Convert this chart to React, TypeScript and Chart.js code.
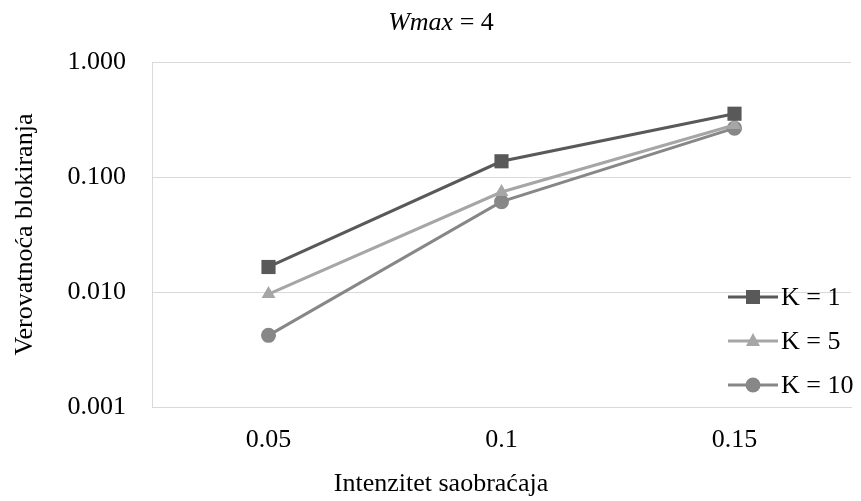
import React, { useEffect, useRef } from "react";
import { Chart, registerables } from "chart.js";

Chart.register(...registerables);

const categories = ["0.05", "0.1", "0.15"];
const seriesK1 = [0.0165, 0.137, 0.355];
const seriesK5 = [0.0096, 0.074, 0.283];
const seriesK10 = [0.0042, 0.061, 0.266];
const seriesLabels = ["K = 1", "K = 5", "K = 10"];
const yTickValues = [0.001, 0.01, 0.1, 1];
const titleItalic = "Wmax";
const titleRest = " = 4";
const xTitle = "Intenzitet saobraćaja";
const yTitle = "Verovatnoća blokiranja";

const FONT = "'Liberation Serif', 'Times New Roman', serif";
const FS = 26;
const colors = ["#595959", "#a6a6a6", "#878787"];
const shapes = ["rect", "triangle", "circle"];

function drawMarker(ctx: CanvasRenderingContext2D, shape: string, x: number, y: number, color: string) {
  ctx.save();
  ctx.fillStyle = color;
  ctx.beginPath();
  if (shape === "rect") {
    ctx.rect(x - 7, y - 7, 14, 14);
  } else if (shape === "triangle") {
    ctx.moveTo(x, y - 8);
    ctx.lineTo(x + 7, y + 5);
    ctx.lineTo(x - 7, y + 5);
    ctx.closePath();
  } else {
    ctx.arc(x, y, 7.5, 0, Math.PI * 2);
  }
  ctx.fill();
  ctx.restore();
}

const textPlugin = {
  id: "textPlugin",
  afterDraw(chart: any) {
    const ctx: CanvasRenderingContext2D = chart.ctx;
    ctx.save();
    ctx.fillStyle = "#000";
    ctx.textBaseline = "middle";
    // title
    ctx.font = `italic ${FS}px ${FONT}`;
    const w1 = ctx.measureText(titleItalic).width;
    ctx.font = `${FS}px ${FONT}`;
    const w2 = ctx.measureText(titleRest).width;
    const cx = 441;
    const x0 = cx - (w1 + w2) / 2;
    ctx.textAlign = "left";
    ctx.font = `italic ${FS}px ${FONT}`;
    ctx.fillText(titleItalic, x0, 23);
    ctx.font = `${FS}px ${FONT}`;
    ctx.fillText(titleRest, x0 + w1, 23);
    // x title
    ctx.textAlign = "center";
    ctx.fillText(xTitle, 441, 484);
    // legend
    const ys = [297, 341, 385];
    seriesLabels.forEach((lab, i) => {
      const y = ys[i];
      ctx.strokeStyle = colors[i];
      ctx.lineWidth = 3;
      ctx.beginPath();
      ctx.moveTo(728, y);
      ctx.lineTo(778, y);
      ctx.stroke();
      drawMarker(ctx, shapes[i], 753, y, colors[i]);
      ctx.fillStyle = "#000";
      ctx.textAlign = "left";
      ctx.fillText(lab, 781, y + 1);
    });
    ctx.restore();
  },
};

export default function App() {
  const ref = useRef<HTMLCanvasElement | null>(null);
  useEffect(() => {
    if (!ref.current) return;
    const data = [seriesK1, seriesK5, seriesK10];
    const chart = new Chart(ref.current, {
      type: "line",
      data: {
        labels: categories,
        datasets: data.map((d, i) => ({
          label: seriesLabels[i],
          data: d,
          borderColor: colors[i],
          backgroundColor: colors[i],
          borderWidth: 3,
          pointStyle: shapes[i] as any,
          pointRadius: i === 0 ? 10 : i === 1 ? 8 : 7.5,
          pointBorderWidth: 0,
          pointHoverRadius: 8,
          tension: 0,
          fill: false,
        })),
      },
      options: {
        animation: false,
        responsive: true,
        maintainAspectRatio: false,
        layout: { padding: { top: 62, right: 1, left: 0, bottom: 0 } },
        plugins: {
          legend: { display: false },
          title: { display: false },
          tooltip: { enabled: false },
        },
        scales: {
          x: {
            offset: true,
            grid: { display: false, drawTicks: false },
            border: { display: true, color: "#d9d9d9" },
            ticks: { color: "#000", font: { family: FONT, size: FS }, padding: 18, maxRotation: 0 },
            afterFit: (s: any) => {
              s.height = 94;
            },
          },
          y: {
            type: "logarithmic",
            min: 0.001,
            max: 1,
            grid: { color: "#d9d9d9", lineWidth: 1, drawTicks: false },
            border: { display: true, color: "#d9d9d9" },
            afterBuildTicks: (s: any) => {
              s.ticks = yTickValues.map((v) => ({ value: v }));
            },
            ticks: {
              color: "#000",
              font: { family: FONT, size: FS },
              padding: 26,
              callback: (v: any) => Number(v).toFixed(3),
            },
            title: {
              display: true,
              text: yTitle,
              color: "#000",
              font: { family: FONT, size: FS },
              padding: { top: 10, bottom: 0 },
            },
            afterFit: (s: any) => {
              s.width = 152;
            },
          },
        },
      },
      plugins: [textPlugin],
    });
    return () => chart.destroy();
  }, []);
  return (
    <div style={{ position: "absolute", left: 0, top: 0, width: 861, height: 501, background: "#fff" }}>
      <canvas ref={ref} />
    </div>
  );
}
